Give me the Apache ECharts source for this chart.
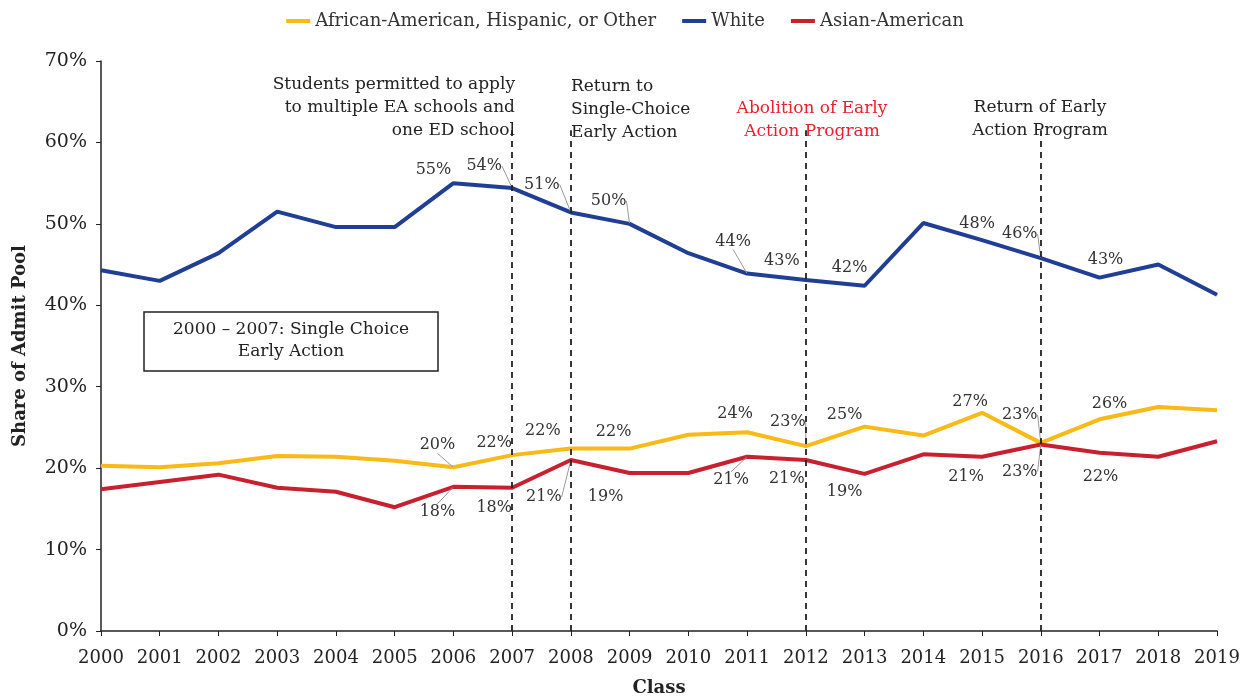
<!DOCTYPE html>
<html><head><meta charset="utf-8">
<script src="https://cdn.jsdelivr.net/npm/echarts@6/dist/echarts.min.js"></script>
<style>html,body{margin:0;padding:0;background:#fff}#c{width:1250px;height:696px}</style>
</head><body><div id="c"></div>
<script>
const years = ['2000','2001','2002','2003','2004','2005','2006','2007','2008','2009','2010','2011','2012','2013','2014','2015','2016','2017','2018','2019'];
const minority = [20.3,20.1,20.6,21.5,21.4,20.9,20.1,21.6,22.4,22.4,24.1,24.4,22.7,25.1,24.0,26.8,23.1,26.0,27.5,27.1];
const white = [44.3,43.0,46.4,51.5,49.6,49.6,55.0,54.4,51.4,50.0,46.4,43.9,43.1,42.4,50.1,48.0,45.8,43.4,45.0,41.3];
const asian = [17.4,18.3,19.2,17.6,17.1,15.2,17.7,17.6,21.0,19.4,19.4,21.4,21.0,19.3,21.7,21.4,22.9,21.9,21.4,23.3];
const labeledYears = ['2006','2007','2008','2009','2011','2012','2013','2015','2016','2017'];
const policyYears = ['2007','2008','2012','2016'];
const yTicks = [0,10,20,30,40,50,60,70];

// label offsets and leader-line flags (layout only)
const offW = {'2006':[-20,-13],'2007':[-28,-22,1],'2008':[-29,-28,1],'2009':[-21,-23,1],'2011':[-14,-32,1],'2012':[-24,-19],'2013':[-15,-18],'2015':[-5,-16],'2016':[-21,-24,1],'2017':[6,-18]};
const offM = {'2006':[-16,-22,1],'2007':[-18,-12],'2008':[-28,-18],'2009':[-16,-17],'2011':[-12,-18],'2012':[-18,-24,1],'2013':[-20,-12],'2015':[-12,-11],'2016':[-21,-28,1],'2017':[10,-15]};
const offA = {'2006':[-16,25,1],'2007':[-18,20],'2008':[-27,37,1],'2009':[-24,24],'2011':[-16,23,1],'2012':[-19,19],'2013':[-20,18],'2015':[-16,20],'2016':[-21,27,1],'2017':[1,24]};

const FONT = "'DejaVu Serif', 'Liberation Serif', serif";
const chart = echarts.init(document.getElementById('c'));

function mkData(vals, offs){
  return vals.map((v,i)=> {
    const y = years[i];
    if (!labeledYears.includes(y)) return {value:v, label:{show:false}, labelLine:{show:false}};
    const o = offs[y];
    return {value:v, label:{show:true}, labelLine:{show: !!o[2]}};
  });
}
function mkSeries(name, vals, color, offs){
  return {
    name, type:'line', data: mkData(vals, offs), symbol:'circle', symbolSize:1, showSymbol:true,
    lineStyle:{color, width:4}, itemStyle:{color},
    label:{show:false, position:'inside', formatter: p=>Math.round(p.value)+'%', fontFamily:FONT, fontSize:16, color:'#333'},
    labelLine:{show:true, lineStyle:{color:'#999', width:1}},
    labelLayout: p => { const o = offs[years[p.dataIndex]] || [0,0]; return {dx:o[0], dy:o[1]}; },
    emphasis:{disabled:true}, animation:false, z:3
  };
}

const whiteSeries = mkSeries('White', white, '#213E95', offW);
whiteSeries.markLine = {
  silent:true, symbol:'none', animation:false,
  lineStyle:{color:'#222', type:[6,5], width:1.8},
  label:{show:false},
  data: policyYears.map(y=>[{coord:[y,0]},{coord:[y,61.5]}])
};

const T = "17px " + FONT;
chart.setOption({
  animation:false,
  grid:{left:101, right:33, top:61, bottom:65, outerBoundsMode:'none'},
  legend:{
    top:7, left:'center', itemWidth:24, itemHeight:4, icon:'rect', itemGap:26,
    textStyle:{fontFamily:FONT, fontSize:18, color:'#333'},
    data:['African-American, Hispanic, or Other','White','Asian-American']
  },
  xAxis:{
    type:'category', data:years, boundaryGap:false,
    name:'Class', nameLocation:'middle', nameGap:48,
    nameTextStyle:{fontFamily:FONT, fontSize:18, fontWeight:'bold', color:'#222'},
    axisLine:{lineStyle:{color:'#222', width:1.5}},
    axisTick:{show:true, length:5, lineStyle:{color:'#222'}},
    axisLabel:{fontFamily:FONT, fontSize:18, color:'#222', margin:18, interval:0},
    splitLine:{show:false}
  },
  yAxis:{
    type:'value', min:yTicks[0], max:yTicks[yTicks.length-1], interval:10,
    name:'Share of Admit Pool', nameLocation:'middle', nameGap:72,
    nameTextStyle:{fontFamily:FONT, fontSize:18, fontWeight:'bold', color:'#222'},
    axisLine:{show:true, lineStyle:{color:'#222', width:1.5}},
    axisTick:{show:true, length:5, lineStyle:{color:'#222'}},
    axisLabel:{fontFamily:FONT, fontSize:19, color:'#222', formatter:'{value}%', margin:14},
    splitLine:{show:false}
  },
  series:[
    mkSeries('African-American, Hispanic, or Other', minority, '#F9B916', offM),
    whiteSeries,
    mkSeries('Asian-American', asian, '#C8202F', offA)
  ],
  graphic:[
    {type:'text', x:515, y:73, style:{text:'Students permitted to apply\nto multiple EA schools and\none ED school', align:'right', verticalAlign:'top', font:T, fill:'#222', lineHeight:23}},
    {type:'text', x:571, y:75, style:{text:'Return to\nSingle-Choice\nEarly Action', align:'left', verticalAlign:'top', font:T, fill:'#222', lineHeight:23}},
    {type:'text', x:812, y:97, style:{text:'Abolition of Early\nAction Program', align:'center', verticalAlign:'top', font:T, fill:'#E8202F', lineHeight:23}},
    {type:'text', x:1040, y:96, style:{text:'Return of Early\nAction Program', align:'center', verticalAlign:'top', font:T, fill:'#222', lineHeight:23}},
    {type:'rect', x:144, y:312, shape:{width:294, height:59}, style:{fill:'#fff', stroke:'#222', lineWidth:1.5}},
    {type:'text', x:291, y:319, style:{text:'2000 – 2007: Single Choice\nEarly Action', align:'center', verticalAlign:'top', font:T, fill:'#222', lineHeight:22}}
  ]
});
</script></body></html>
